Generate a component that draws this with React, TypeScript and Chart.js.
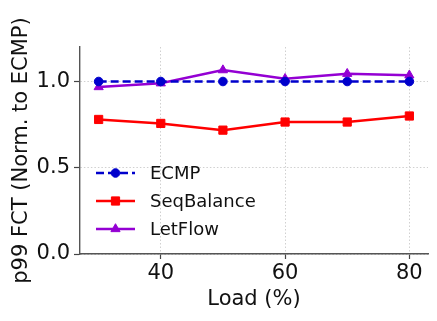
import React, { useEffect, useRef } from "react";
import { Chart, registerables } from "chart.js";

Chart.register(...registerables);

const loads = [30, 40, 50, 60, 70, 80];
const ecmp = [1.0, 1.0, 1.0, 1.0, 1.0, 1.0];
const seqBalance = [0.78, 0.757, 0.718, 0.765, 0.765, 0.8];
const letFlow = [0.968, 0.99, 1.066, 1.016, 1.045, 1.036];
const xTicks = [40, 60, 80];
const yTicks = [0, 0.5, 1.0];

const FONT = "'DejaVu Sans', sans-serif";

const legendPlugin = {
  id: "insideLegend",
  afterDatasetsDraw(chart: any) {
    const ctx = chart.ctx;
    const area = chart.chartArea;
    const x0 = area.left + 16;
    const lineLen = 39;
    const yStart = area.bottom - 81;
    const rowH = 28;
    chart.data.datasets.forEach((ds: any, i: number) => {
      const y = yStart + i * rowH;
      ctx.save();
      ctx.strokeStyle = ds.borderColor;
      ctx.lineWidth = ds.borderWidth;
      ctx.setLineDash(ds.borderDash || []);
      ctx.beginPath();
      ctx.moveTo(x0, y);
      ctx.lineTo(x0 + lineLen, y);
      ctx.stroke();
      ctx.setLineDash([]);
      const cx = x0 + lineLen / 2;
      ctx.fillStyle = ds.pointBackgroundColor;
      ctx.strokeStyle = ds.pointBorderColor;
      ctx.lineWidth = 1;
      const r = ds.pointRadius;
      ctx.beginPath();
      if (ds.pointStyle === "circle") {
        ctx.arc(cx, y, r, 0, Math.PI * 2);
      } else if (ds.pointStyle === "rect") {
        const s = r * Math.SQRT1_2;
        ctx.rect(cx - s, y - s, s * 2, s * 2);
      } else {
        ctx.moveTo(cx, y - r);
        ctx.lineTo(cx + r * 0.866, y + r * 0.5);
        ctx.lineTo(cx - r * 0.866, y + r * 0.5);
        ctx.closePath();
      }
      ctx.fill();
      ctx.stroke();
      ctx.fillStyle = "#111";
      ctx.font = `18px ${FONT}`;
      ctx.textBaseline = "middle";
      ctx.textAlign = "left";
      ctx.fillText(ds.label, x0 + lineLen + 15, y + 1);
      ctx.restore();
    });
  },
};

export default function App() {
  const ref = useRef<HTMLCanvasElement | null>(null);
  useEffect(() => {
    if (!ref.current) return;
    const mk = (label: string, data: number[], color: string, style: string, dash: number[] | undefined, r: number) => ({
      label,
      data: loads.map((x, i) => ({ x, y: data[i] })),
      borderColor: color,
      backgroundColor: color,
      pointBackgroundColor: color,
      pointBorderColor: color,
      pointBorderWidth: 1,
      pointStyle: style,
      pointRadius: r,
      borderWidth: 2.5,
      borderDash: dash,
      tension: 0,
      fill: false,
    });
    const chart = new Chart(ref.current, {
      type: "line",
      data: {
        datasets: [
          mk("ECMP", ecmp, "#0000cc", "circle", [8, 4], 4.3),
          mk("SeqBalance", seqBalance, "#ff0000", "rect", undefined, 5.8),
          mk("LetFlow", letFlow, "#9400d3", "triangle", undefined, 5.3),
        ] as any,
      },
      options: {
        animation: false,
        responsive: false,
        devicePixelRatio: 1,
        layout: { padding: { left: 0, right: 9, top: 47, bottom: 0 } },
        plugins: { legend: { display: false }, tooltip: { enabled: false } },
        scales: {
          x: {
            type: "linear",
            min: 27,
            max: 83,
            afterBuildTicks: (s: any) => {
              s.ticks = xTicks.map((v) => ({ value: v }));
            },
            afterFit: (s: any) => {
              s.height = 67;
            },
            ticks: {
              font: { family: FONT, size: 21 },
              color: "#111",
              padding: 2,
            },
            grid: {
              color: "#d0d0d0",
              lineWidth: 1,
              tickColor: "#444",
              tickLength: 5,
              tickWidth: 1.2,
            },
            border: { color: "#555", width: 1.4, dash: [1.5, 2] },
            title: {
              display: true,
              text: "Load (%)",
              font: { family: FONT, size: 21 },
              color: "#111",
              padding: { top: 0, bottom: 9 },
            },
          },
          y: {
            type: "linear",
            min: 0,
            max: 1.2,
            afterBuildTicks: (s: any) => {
              s.ticks = yTicks.map((v) => ({ value: v }));
            },
            afterFit: (s: any) => {
              s.width = 80;
            },
            ticks: {
              font: { family: FONT, size: 21 },
              color: "#111",
              padding: 4,
              callback: (v: any) => Number(v).toFixed(1),
            },
            grid: {
              color: "#d0d0d0",
              lineWidth: 1,
              tickColor: "#444",
              tickLength: 6,
              tickWidth: 1.2,
            },
            border: { color: "#555", width: 1.4, dash: [1.5, 2] },
            title: {
              display: true,
              text: "p99 FCT (Norm. to ECMP)",
              font: { family: FONT, size: 21 },
              color: "#111",
              padding: { top: 9, bottom: 0 },
            },
          },
        },
      },
      plugins: [legendPlugin],
    } as any);
    return () => chart.destroy();
  }, []);
  return (
    <div style={{ position: "fixed", left: 0, top: 0, width: 437, height: 321, background: "#fff" }}>
      <canvas ref={ref} width={437} height={321} style={{ width: 437, height: 321, display: "block" }} />
    </div>
  );
}
